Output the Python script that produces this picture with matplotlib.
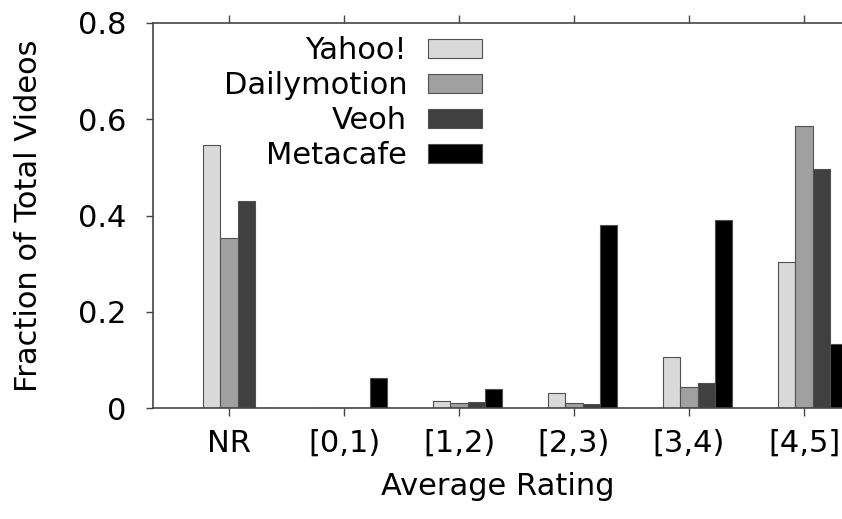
import numpy as np
import matplotlib
matplotlib.use('Agg')
import matplotlib.pyplot as plt

matplotlib.rcParams['font.family'] = ['DejaVu Sans']

categories = ['NR', '[0,1)', '[1,2)', '[2,3)', '[3,4)', '[4,5]']
series = ['Yahoo!', 'Dailymotion', 'Veoh', 'Metacafe']
yahoo = [0.546, 0.001, 0.015, 0.032, 0.107, 0.303]
dailymotion = [0.354, 0.001, 0.011, 0.010, 0.044, 0.585]
veoh = [0.431, 0.001, 0.012, 0.008, 0.052, 0.497]
metacafe = [0.001, 0.062, 0.039, 0.380, 0.391, 0.132]
colors = ['#d9d9d9', '#a0a0a0', '#404040', '#000000']

fs = 22

fig = plt.figure(figsize=(8.42, 5.19), dpi=100)
ax = fig.add_axes([153 / 842, 1 - 408 / 519, (842 - 153) / 842, (408 - 23) / 519])

x = np.arange(len(categories))
w = 0.15
for i, (name, vals) in enumerate(zip(series, [yahoo, dailymotion, veoh, metacafe])):
    ax.bar(x + (i - 1) * w, vals, width=w, color=colors[i], edgecolor='#505050',
           linewidth=0.8, label=name)

ax.set_xlim(-0.661, 5.33)
ax.set_ylim(0, 0.8)
ax.set_yticks([0, 0.2, 0.4, 0.6, 0.8])
ax.set_yticklabels(['0', '0.2', '0.4', '0.6', '0.8'])
ax.set_xticks(x)
ax.set_xticklabels(categories)

for s in ['left', 'top', 'bottom']:
    ax.spines[s].set_color('#444444')
    ax.spines[s].set_linewidth(1.2)
ax.spines['right'].set_visible(False)

ax.tick_params(axis='y', direction='out', length=5, width=1, color='#444444',
               labelsize=fs, pad=14)
ax.tick_params(axis='x', direction='out', length=6, width=1, color='#444444',
               labelsize=fs, pad=9, top=True)

ax.set_xlabel('Average Rating', fontsize=fs, labelpad=10)
ax.set_ylabel('Fraction of Total Videos', fontsize=fs, labelpad=25)

ax.legend(loc='upper right', bbox_to_anchor=(482 / 842, 1 - 36 / 519),
          bbox_transform=fig.transFigure,
          frameon=False, markerfirst=False, fontsize=fs, handlelength=1.76,
          handleheight=0.59, handletextpad=0.69, labelspacing=0.2,
          borderpad=0, borderaxespad=0)

fig.savefig('out.png', dpi=100)
